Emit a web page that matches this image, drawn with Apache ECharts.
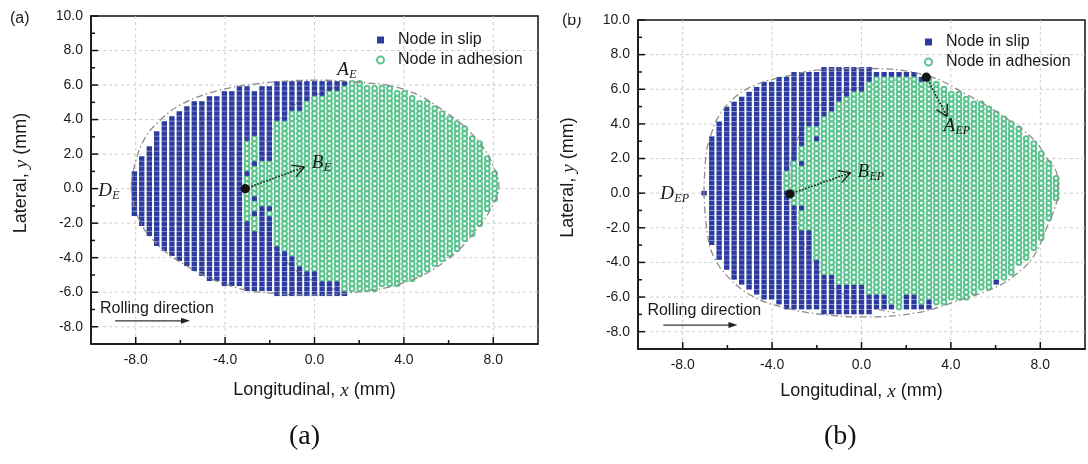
<!DOCTYPE html>
<html><head><meta charset="utf-8">
<script src="https://cdn.jsdelivr.net/npm/echarts@6/dist/echarts.min.js"></script>
<style>html,body{margin:0;padding:0;background:#fff}#c{width:1088px;height:464px}</style>
</head><body><div id="c"></div><script>
// ---------------- DATA ----------------
const xMajor = [-8, -4, 0, 4, 8];
const xMinor = [-6, -2, 2, 6];
const yMajor = [-8, -6, -4, -2, 0, 2, 4, 6, 8, 10];
const yMinor = [-7, -5, -3, -1, 1, 3, 5, 7, 9];
const xGridVals = [-8, -4, 0, 4, 8];
const yGridVals = [-8, -6, -4, -2, 0, 2, 4, 6, 8];

// Panel (a): node columns (x, mm), top / bottom node y per column, adhesion interval per column
const colXA = [-8.06,-7.73,-7.39,-7.06,-6.72,-6.38,-6.05,-5.71,-5.38,-5.04,-4.70,-4.37,-4.03,-3.70,-3.36,-3.02,-2.69,-2.35,-2.02,-1.68,-1.34,-1.01,-0.67,-0.34,0,0.34,0.67,1.01,1.34,1.68,2.02,2.35,2.69,3.02,3.36,3.70,4.03,4.37,4.70,5.04,5.38,5.71,6.05,6.38,6.72,7.06,7.39,7.73,8.06];
const topA = [0.9,1.9,2.5,3.2,3.8,4.15,4.45,4.8,4.9,5.1,5.2,5.4,5.5,5.7,5.8,5.8,5.5,5.8,5.8,6.1,6.1,6.1,6.1,6.1,6.1,6.1,6.1,6.1,6.1,6.1,6.05,6.0,5.95,5.85,5.75,5.6,5.45,5.3,5.1,4.9,4.65,4.4,4.1,3.8,3.4,3.0,2.55,1.8,0.9];
const botA = [-1.65,-2.2,-2.6,-3.2,-3.55,-3.95,-4.25,-4.55,-4.7,-5.0,-5.15,-5.3,-5.5,-5.6,-5.7,-5.8,-5.9,-5.9,-5.9,-6.1,-6.1,-6.1,-6.1,-6.1,-6.1,-6.1,-6.1,-6.1,-6.1,-6.0,-5.9,-5.85,-5.8,-5.7,-5.6,-5.45,-5.3,-5.15,-4.95,-4.75,-4.5,-4.25,-3.9,-3.5,-3.1,-2.6,-2.0,-1.3,-0.6];
const adhA = [null,null,null,null,null,null,null,null,null,null,null,null,null,null,null,
  [-1.9,2.8],[-2.4,3.0],[-0.9,1.6],[-2.0,1.6],[-3.3,3.9],[-3.6,4.0],[-3.9,4.4],[-4.5,4.6],[-4.8,5.0],[-4.9,5.3],[-5.5,5.4],[-5.5,5.6],[-5.5,5.7],[-5.8,5.85],
  [-9,9],[-9,9],[-9,9],[-9,9],[-9,9],[-9,9],[-9,9],[-9,9],[-9,9],[-9,9],[-9,9],[-9,9],[-9,9],[-9,9],[-9,9],[-9,9],[-9,9],[-9,9],[-9,9],[-9,9]];
const slipDotsA = [[15,0.87],[16,1.45],[16,-0.58],[16,-1.45],[18,-1.16],[18,-1.74]];
const rowStepA = 0.29;
const boundaryA = [[-8.2,0.2],[-8.0,1.6],[-7.6,2.9],[-7.0,3.85],[-6.0,4.85],[-4.4,5.65],[-2.4,6.1],[0,6.28],[1.6,6.2],[4.0,5.75],[5.9,4.4],[7.3,2.8],[8.0,1.3],[8.25,0.1],[8.0,-0.9],[7.3,-2.3],[5.9,-4.15],[4.0,-5.45],[1.5,-6.05],[-0.2,-6.15],[-1.7,-6.08],[-3.6,-5.7],[-5.7,-4.5],[-7.35,-2.8],[-8.05,-1.1],[-8.2,0.2]];
const innerA = [[1.5,6.1],[0.2,5.5],[-1.2,4.5],[-2.4,2.2],[-3.1,0],[-2.7,-2.0],[-1.7,-3.6],[-0.4,-5.1],[1.5,-6.05]];

// Panel (b)
const colXB = [-7.04,-6.70,-6.37,-6.03,-5.70,-5.36,-5.03,-4.69,-4.36,-4.02,-3.69,-3.35,-3.02,-2.68,-2.35,-2.01,-1.68,-1.34,-1.01,-0.67,-0.34,0,0.34,0.67,1.01,1.34,1.68,2.01,2.35,2.68,3.02,3.35,3.69,4.02,4.36,4.69,5.03,5.36,5.70,6.03,6.37,6.70,7.04,7.37,7.71,8.04,8.38,8.71];
const topB = [0.1,3.2,4.1,4.8,5.15,5.4,5.8,6.05,6.25,6.3,6.6,6.7,6.85,6.85,6.85,6.85,7.15,7.15,7.15,7.15,7.15,7.15,7.15,6.85,6.85,6.85,6.85,6.85,6.85,6.6,6.5,6.3,6.1,5.9,5.7,5.55,5.3,5.1,4.9,4.6,4.3,4.0,3.7,3.3,2.9,2.4,1.7,0.9];
const botB = [-0.1,-3.0,-3.85,-4.4,-4.9,-5.3,-5.6,-5.9,-6.05,-6.2,-6.45,-6.5,-6.6,-6.75,-6.75,-6.75,-6.9,-6.9,-6.9,-6.9,-6.9,-6.9,-6.9,-6.6,-6.6,-6.6,-6.6,-6.6,-6.6,-6.6,-6.55,-6.45,-6.35,-6.2,-6.1,-5.95,-5.8,-5.6,-5.4,-5.15,-4.8,-4.5,-4.2,-3.8,-3.3,-2.6,-1.6,-0.4];
const adhB = [null,null,null,null,null,null,null,null,null,null,null,
  [0.2,1.3],[-0.7,1.9],[-2.2,2.8],[-2.2,4.0],[-3.8,4.0],[-4.6,4.3],[-4.6,4.6],[-5.4,5.3],[-5.4,5.5],[-5.4,5.8],[-5.4,6.0],[-5.9,6.3],[-5.9,6.65],[-5.9,6.65],[-6.4,6.65],[-9,6.65],[-5.9,6.65],[-5.9,6.65],[-6.4,6.4],[-6.1,9],
  [-9,9],[-9,9],[-9,9],[-9,9],[-9,9],[-9,9],[-9,9],[-9,9],[-9,9],[-9,9],[-9,9],[-9,9],[-9,9],[-9,9],[-9,9],[-9,9],[-9,9]];
const slipDotsB = [[13,-1.0],[13,1.72],[15,3.15],[39,-5.15]];
const rowStepB = 0.286;
const boundaryB = [[-7.05,0],[-6.95,2.3],[-6.75,3.3],[-6.45,4.3],[-5.7,5.5],[-4.65,6.3],[-3.2,6.8],[-2.0,7.1],[0.25,7.2],[2.9,6.8],[4.7,5.7],[6.5,4.3],[7.7,3.1],[8.3,2.0],[8.75,1.1],[8.8,0.3],[8.75,-0.4],[8.3,-1.95],[7.7,-3.65],[6.9,-4.7],[6.05,-5.4],[4.0,-6.35],[2.5,-6.9],[0.25,-7.15],[-1.8,-7.0],[-3.5,-6.6],[-4.8,-6.0],[-5.85,-5.0],[-6.6,-3.7],[-6.9,-2.3],[-7.05,0]];
const innerB = [[2.9,6.7],[0.6,6.3],[-1.6,5.3],[-2.7,3.6],[-3.2,0.4],[-3.05,-1.0],[-1.8,-4.6],[-0.3,-6.2],[1.5,-6.9]];

// ---------------- BUILD ----------------
function buildNodes(colX, tops, bots, adh, slipDots, dy) {
  const slip = [], adhesion = [];
  colX.forEach((x, i) => {
    for (let k = -30; k <= 30; k++) {
      const y = +(k * dy).toFixed(3);
      if (y < bots[i] - 0.08 || y > tops[i] + 0.08) continue;
      let isAdh = !!adh[i] && y >= adh[i][0] && y <= adh[i][1];
      if (isAdh && slipDots.some(d => d[0] === i && Math.abs(d[1] - y) < dy / 2)) isAdh = false;
      (isAdh ? adhesion : slip).push([x, y]);
    }
  });
  return { slip, adhesion };
}
const nodesA = buildNodes(colXA, topA, botA, adhA, slipDotsA, rowStepA);
const nodesB = buildNodes(colXB, topB, botB, adhB, slipDotsB, rowStepB);

const FONT = 'Liberation Sans, Arial, sans-serif';
const SERIF = 'Liberation Serif, Times New Roman, serif';
const INK = '#1a1a1a';
const BLUE = '#2b3b9f';
const GREEN = '#5cc48e';

// annotation layout (data coords)
const annA = {
  dots: [[-3.1, 0.0]],
  arrows: [[[-3.1, 0.0], [-0.45, 1.25]]],
  labels: [{ at: [-0.12, 1.48], main: 'B', sub: 'E', w: 12 }, { at: [1.02, 6.87], main: 'A', sub: 'E', w: 12 }, { at: [-9.68, -0.14], main: 'D', sub: 'E', w: 14 }],
  rollText: [-9.6, -6.93], rollArrow: [[-8.92, -7.66], [-5.57, -7.66]]
};
const annB = {
  dots: [[-3.2, -0.05], [2.9, 6.7]],
  arrows: [[[-3.2, -0.05], [-0.49, 1.18]], [[2.9, 6.7], [3.83, 4.42]]],
  labels: [{ at: [-0.18, 1.25], main: 'B', sub: 'EP', w: 12 }, { at: [3.67, 3.88], main: 'A', sub: 'EP', w: 12 }, { at: [-9.0, -0.05], main: 'D', sub: 'EP', w: 14 }],
  rollText: [-9.58, -6.8], rollArrow: [[-8.87, -7.62], [-5.55, -7.62]]
};

function annRender(ann) {
  return function (params, api) {
    const ch = [];
    ann.arrows.forEach(a => {
      const p0 = api.coord(a[0]), p1 = api.coord(a[1]);
      ch.push({ type: 'line', shape: { x1: p0[0], y1: p0[1], x2: p1[0], y2: p1[1] }, style: { stroke: INK, lineWidth: 1.6, lineDash: [1.6, 1.6] } });
      const ang = Math.atan2(p1[1] - p0[1], p1[0] - p0[0]);
      [0.5, -0.5].forEach(d => {
        const a2 = ang + Math.PI + d;
        ch.push({ type: 'line', shape: { x1: p1[0], y1: p1[1], x2: p1[0] + 13 * Math.cos(a2), y2: p1[1] + 13 * Math.sin(a2) }, style: { stroke: INK, lineWidth: 1.3 } });
      });
    });
    ann.dots.forEach(d => {
      const p = api.coord(d);
      ch.push({ type: 'circle', shape: { cx: p[0], cy: p[1], r: 4.6 }, style: { fill: '#151515' } });
    });
    ann.labels.forEach(l => {
      const p = api.coord(l.at);
      ch.push({ type: 'text', x: p[0], y: p[1], style: { text: l.main, fontFamily: SERIF, fontStyle: 'italic', fontSize: 19, fill: INK, verticalAlign: 'middle', align: 'left' } });
      ch.push({ type: 'text', x: p[0] + l.w, y: p[1] + 5, style: { text: l.sub, fontFamily: SERIF, fontStyle: 'italic', fontSize: 12, fill: INK, verticalAlign: 'middle', align: 'left' } });
    });
    const t = api.coord(ann.rollText);
    ch.push({ type: 'text', x: t[0], y: t[1], style: { text: 'Rolling direction', fontFamily: FONT, fontSize: 16, fill: INK, verticalAlign: 'middle', align: 'left' } });
    const r0 = api.coord(ann.rollArrow[0]), r1 = api.coord(ann.rollArrow[1]);
    ch.push({ type: 'line', shape: { x1: r0[0], y1: r0[1], x2: r1[0] - 6, y2: r1[1] }, style: { stroke: '#333', lineWidth: 1.3 } });
    ch.push({ type: 'polygon', shape: { points: [[r1[0], r1[1]], [r1[0] - 9, r1[1] - 3], [r1[0] - 9, r1[1] + 3]] }, style: { fill: '#222' } });
    return { type: 'group', children: ch };
  };
}

// kind: 0 vertical grid line, 1 horizontal grid line, 2 x major tick, 3 x minor tick, 4 y major tick, 5 y minor tick
function frameRender(params, api) {
  const cs = params.coordSys;
  const kind = api.value(0), v = api.value(1);
  const gstyle = { stroke: '#cdcdcd', lineWidth: 1, lineDash: [3, 3] };
  const tstyle = { stroke: '#111', lineWidth: 1.5 };
  const bottom = cs.y + cs.height, left = cs.x;
  if (kind === 0) { const p = api.coord([v, 0]); return { type: 'line', shape: { x1: p[0], y1: cs.y, x2: p[0], y2: bottom }, style: gstyle }; }
  if (kind === 1) { const p = api.coord([0, v]); return { type: 'line', shape: { x1: left, y1: p[1], x2: left + cs.width, y2: p[1] }, style: gstyle }; }
  if (kind === 2 || kind === 3) { const p = api.coord([v, 0]); const L = kind === 2 ? 7 : 4; return { type: 'line', shape: { x1: p[0], y1: bottom, x2: p[0], y2: bottom - L }, style: tstyle }; }
  const p = api.coord([0, v]); const L = kind === 4 ? 7 : 4;
  return { type: 'line', shape: { x1: left, y1: p[1], x2: left + L, y2: p[1] }, style: tstyle };
}
const gridLineData = xGridVals.map(v => [0, v]).concat(yGridVals.map(v => [1, v]));
const tickData = xMajor.map(v => [2, v]).concat(xMinor.map(v => [3, v]), yMajor.map(v => [4, v]), yMinor.map(v => [5, v]));

const axisLineStyle = { color: '#111', width: 1.5 };
function xAxis(g, gap) {
  return {
    gridIndex: g, type: 'value', min: -10, max: 10, position: 'bottom',
    axisLine: { onZero: false, lineStyle: axisLineStyle },
    axisTick: { show: false },
    axisLabel: { customValues: xMajor, formatter: v => v.toFixed(1), margin: 9, fontSize: 14, color: INK, fontFamily: FONT },
    splitLine: { show: false },
    name: 'Longitudinal, {i|x} (mm)', nameLocation: 'middle', nameGap: gap,
    nameTextStyle: { fontSize: 18, color: INK, fontFamily: FONT, verticalAlign: 'top', rich: { i: { fontFamily: SERIF, fontStyle: 'italic', fontSize: 19, color: INK } } }
  };
}
function yAxis(g) {
  return {
    gridIndex: g, type: 'value', min: -9, max: 10, position: 'left',
    axisLine: { onZero: false, lineStyle: axisLineStyle },
    axisTick: { show: false },
    axisLabel: { customValues: yMajor, formatter: v => v.toFixed(1), margin: 8, fontSize: 14, color: INK, fontFamily: FONT },
    splitLine: { show: false },
    name: 'Lateral, {i|y} (mm)', nameLocation: 'middle', nameGap: 60,
    nameTextStyle: { fontSize: 18, color: INK, fontFamily: FONT, padding: [0, 0, 0, 14], rich: { i: { fontFamily: SERIF, fontStyle: 'italic', fontSize: 19, color: INK } } }
  };
}

function panelSeries(nodes, boundary, inner, ann, ai) {
  return [
    { type: 'custom', xAxisIndex: ai, yAxisIndex: ai, renderItem: frameRender, data: gridLineData, silent: true, z: 1 },
    { name: 'Node in adhesion', type: 'scatter', xAxisIndex: ai, yAxisIndex: ai, data: nodes.adhesion, symbol: 'emptyCircle', symbolSize: 4.8, itemStyle: { color: GREEN, borderWidth: 1.1, opacity: 1 }, silent: true, z: 2, animation: false },
    { type: 'line', xAxisIndex: ai, yAxisIndex: ai, data: inner, smooth: 0.5, symbol: 'none', lineStyle: { color: '#9a9a9a', width: 1.1, type: [6, 3, 1.5, 3] }, silent: true, z: 2, animation: false },
    { name: 'Node in slip', type: 'scatter', xAxisIndex: ai, yAxisIndex: ai, data: nodes.slip, symbol: 'rect', symbolSize: [5.4, 4.6], itemStyle: { color: BLUE, opacity: 1 }, silent: true, z: 3, animation: false },
    { type: 'line', xAxisIndex: ai, yAxisIndex: ai, data: boundary, smooth: 0.4, symbol: 'none', lineStyle: { color: '#8c8c8c', width: 1.3, type: [7, 3, 1.5, 3] }, silent: true, z: 4, animation: false },
    { type: 'custom', xAxisIndex: ai, yAxisIndex: ai, renderItem: frameRender, data: tickData, silent: true, z: 6 },
    { type: 'custom', xAxisIndex: ai, yAxisIndex: ai, renderItem: annRender(ann), data: [[0, 0]], silent: true, z: 5 }
  ];
}

const legendBase = {
  data: ['Node in slip', 'Node in adhesion'], orient: 'vertical', itemWidth: 7, itemHeight: 7, itemGap: 2,
  textStyle: { fontSize: 16, fontFamily: FONT, color: INK, lineHeight: 18, padding: [0, 0, 0, 9] }, selectedMode: false
};

const option = {
  animation: false,
  backgroundColor: '#ffffff',
  grid: [
    { left: 91, top: 16, width: 447, height: 328, show: true, borderColor: '#111', borderWidth: 1.5, backgroundColor: 'transparent' },
    { left: 638, top: 20, width: 447, height: 329, show: true, borderColor: '#111', borderWidth: 1.5, backgroundColor: 'transparent' }
  ],
  xAxis: [xAxis(0, 37), xAxis(1, 33)],
  yAxis: [yAxis(0), yAxis(1)],
  legend: [
    Object.assign({}, legendBase, { left: 371, top: 26 }),
    Object.assign({}, legendBase, { left: 919, top: 28 })
  ],
  series: [...panelSeries(nodesA, boundaryA, innerA, annA, 0), ...panelSeries(nodesB, boundaryB, innerB, annB, 1)],
  graphic: [
    { type: 'text', left: 10, top: 11, style: { text: '(a)', fontSize: 16, fontFamily: FONT, fill: INK } },
    { type: 'text', left: 562, top: 13, style: { text: '(b)', fontSize: 16, fontFamily: FONT, fill: INK } },
    { type: 'rect', shape: { x: 569, y: 0, width: 30, height: 17 }, style: { fill: '#fff' } },
    { type: 'text', left: 289, top: 423, style: { text: '(a)', fontSize: 28, fontFamily: SERIF, fill: '#111' } },
    { type: 'text', left: 824, top: 423, style: { text: '(b)', fontSize: 28, fontFamily: SERIF, fill: '#111' } }
  ]
};
const chart = echarts.init(document.getElementById('c'));
chart.setOption(option);
</script></body></html>
